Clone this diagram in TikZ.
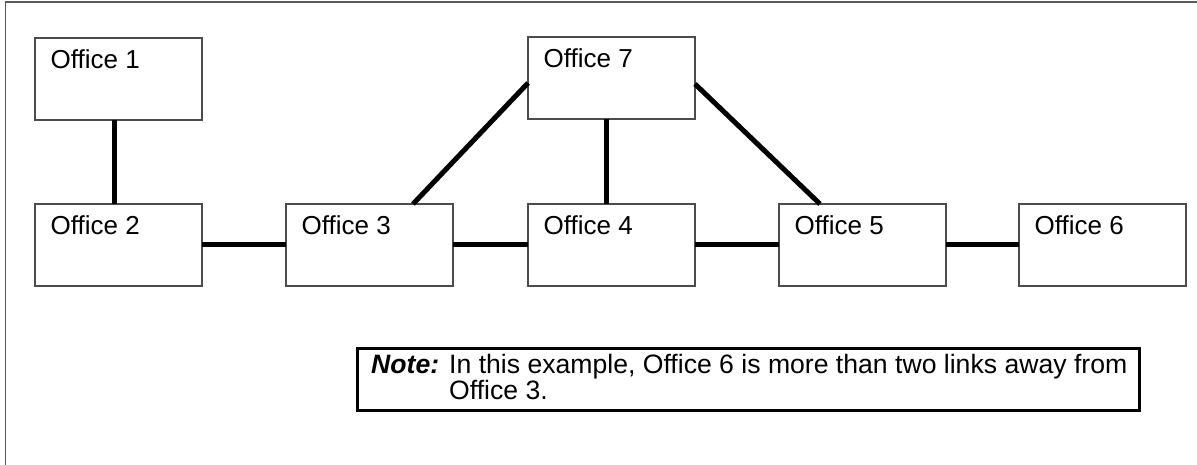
\documentclass[tikz,border=0pt]{standalone}
\usepackage{fontspec}
\setmainfont{Liberation Sans}
\begin{document}
\begin{tikzpicture}[x=1pt,y=-1pt,
  office/.style={draw=black!70, line width=1.3pt, rectangle, anchor=north west,
    minimum width=167pt, minimum height=82pt, inner sep=0pt, outer sep=0pt},
  officelabel/.style={anchor=base west, inner sep=0pt},
  link/.style={line width=5pt, black},
  txt/.style={font=\fontsize{26}{27}\selectfont},
  notetxt/.style={font=\fontsize{26.6}{27}\selectfont}
]
\useasboundingbox (0,0) rectangle (1197,465);
\draw[black!65, line width=1.5pt] (5.5,470) -- (5.5,2) -- (1200,2);

\node[office] (O1) at (35,38) {};
\node[office] (O2) at (35,204) {};
\node[office] (O3) at (286,204) {};
\node[office] (O7) at (528,37) {};
\node[office] (O4) at (528,204) {};
\node[office] (O5) at (779,204) {};
\node[office] (O6) at (1019,204) {};

\foreach \n/\t in {O1/Office 1,O2/Office 2,O3/Office 3,O4/Office 4,O5/Office 5,O6/Office 6,O7/Office 7}
  \node[officelabel, txt] (\n t) at ([xshift=15.5pt,yshift=-31pt]\n.north west) {\t};

\draw[link] ([xshift=-4pt]O1.south) -- ([xshift=-4pt]O2.north);
\draw[link] (O2.east) -- (O3.west);
\draw[link] (O3.east) -- (O4.west);
\draw[link] (O4.east) -- (O5.west);
\draw[link] (O5.east) -- (O6.west);
\draw[link] ([xshift=-5pt]O7.south) -- ([xshift=-5pt]O4.north);
\draw[link] ([xshift=43.5pt]O3.north) -- ([yshift=-5pt]O7.west);
\draw[link] ([yshift=-6pt]O7.east) -- ([xshift=-42.5pt]O5.north);

\node[draw=black, line width=2.5pt, rectangle, anchor=north west,
  minimum width=782pt, minimum height=62pt, inner sep=0pt] (note) at (356,347) {};
\node[officelabel, notetxt] (notehead) at ([xshift=15pt,yshift=-26pt]note.north west) {\textbf{\textit{Note:}}};
\node[anchor=base west, inner sep=0pt, notetxt] (notetext) at ([xshift=93pt,yshift=-26pt]note.north west)
  {\begin{tabular}[t]{@{}l@{}}In this example, Office 6 is more than two links away from\\[-0.5pt]Office 3.\end{tabular}};
\end{tikzpicture}
\end{document}
